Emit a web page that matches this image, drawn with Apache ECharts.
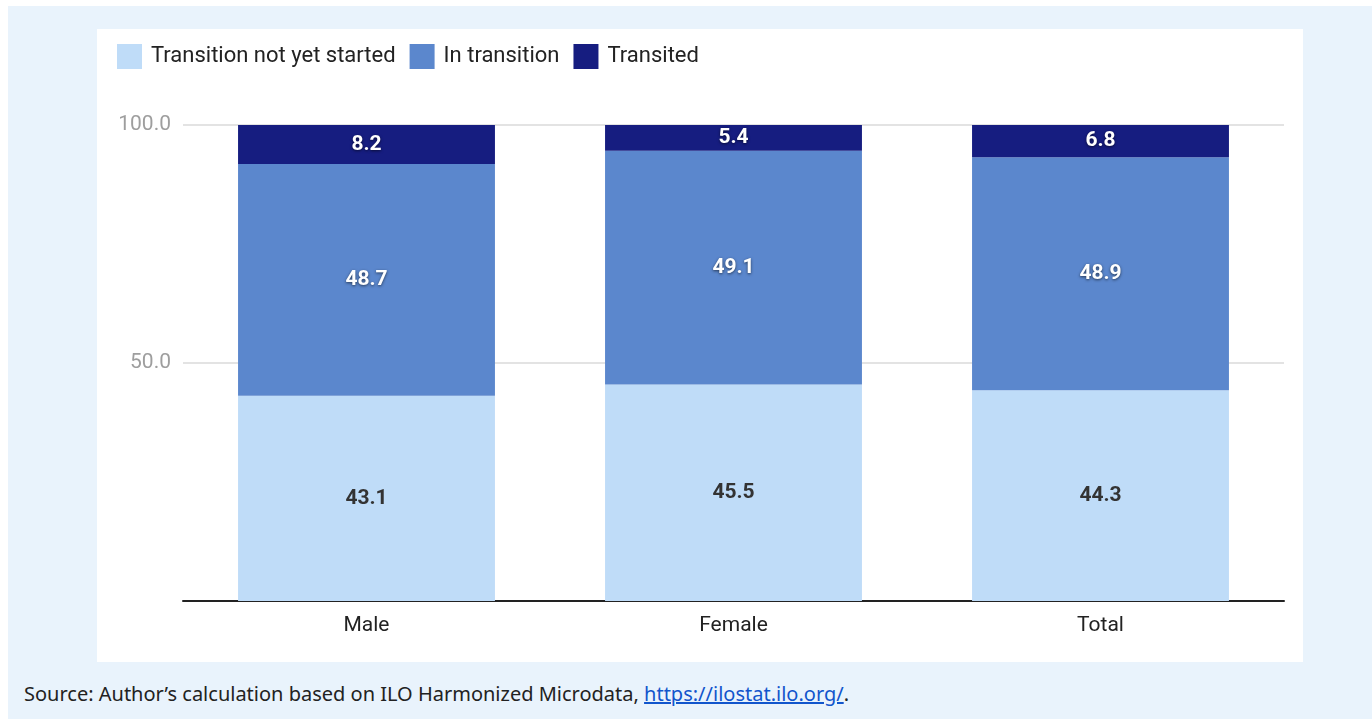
<!DOCTYPE html>
<html>
<head>
<meta charset="utf-8">
<script src="https://cdn.jsdelivr.net/npm/echarts@6/dist/echarts.min.js"></script>
<style>
  body { margin: 0; background: #fff; width: 1372px; height: 719px; overflow: hidden; position: relative; }
  #box { position: absolute; left: 8px; top: 6px; width: 1364px; height: 713px; background: #e9f3fc; }
  #main { position: absolute; left: 97px; top: 29px; width: 1206px; height: 633px; background: #fff; }
  #source { position: absolute; left: 24px; top: 680px; font-family: "Noto Sans", sans-serif; font-size: 20px; line-height: 28px; color: #222; white-space: nowrap; }
  #source a { color: #1155cc; text-decoration: underline; }
</style>
</head>
<body>
<div id="box"></div>
<div id="main"></div>
<div id="source">Source: Author’s calculation based on ILO Harmonized Microdata, <a href="#">https://ilostat.ilo.org/</a>.</div>
<script>
// data
var categories = ['Male', 'Female', 'Total'];
var seriesNames = ['Transition not yet started', 'In transition', 'Transited'];
var notStarted = [43.1, 45.5, 44.3];
var inTransition = [48.7, 49.1, 48.9];
var transited = [8.2, 5.4, 6.8];
var colors = ['#bfdcf8', '#5b87cd', '#161d80'];

var chart = echarts.init(document.getElementById('main'));

function barSeries(name, data, color, dark) {
	return {
		name: name,
		type: 'bar',
		stack: 'total',
		barCategoryGap: '30%',
		data: data,
		itemStyle: { color: color },
		label: {
			show: true,
			position: 'inside',
			formatter: function(p) { return p.value.toFixed(1); },
			fontFamily: 'Roboto',
			fontWeight: 'bold',
			fontSize: 21,
			color: dark ? '#ffffff' : '#333333',
			textShadowColor: dark ? 'rgba(0,0,0,0.6)' : 'transparent',
			textShadowBlur: dark ? 3 : 0,
			textShadowOffsetY: dark ? 1 : 0
		},
		emphasis: { disabled: true }
	};
}

var option = {
	animation: false,
	color: colors,
	legend: {
		left: 20,
		top: 15,
		padding: 0,
		icon: 'rect',
		itemWidth: 25,
		itemHeight: 25,
		itemGap: 14,
		data: seriesNames,
		textStyle: { fontFamily: 'Roboto', fontSize: 22, color: '#222', padding: [0, 0, 0, 4] }
	},
	grid: { left: 86, right: 19, top: 96, bottom: 61, containLabel: false },
	xAxis: {
		type: 'category',
		data: categories,
		axisLine: { lineStyle: { color: '#222', width: 2 } },
		axisTick: { show: false },
		axisLabel: { fontFamily: 'Roboto', fontSize: 21, color: '#222', margin: 14 }
	},
	yAxis: {
		type: 'value',
		min: 0,
		max: 100,
		interval: 50,
		axisLine: { show: false },
		axisTick: { show: false },
		axisLabel: {
			fontFamily: 'Roboto', fontSize: 21, color: '#9e9e9e', margin: 12,
			formatter: function(v) { return v === 0 ? '' : v.toFixed(1); }
		},
		splitLine: { lineStyle: { color: '#e3e3e3', width: 2 } }
	},
	series: [
		barSeries(seriesNames[0], notStarted, colors[0], false),
		barSeries(seriesNames[1], inTransition, colors[1], true),
		barSeries(seriesNames[2], transited, colors[2], true)
	]
};
chart.setOption(option);
</script>
</body>
</html>
